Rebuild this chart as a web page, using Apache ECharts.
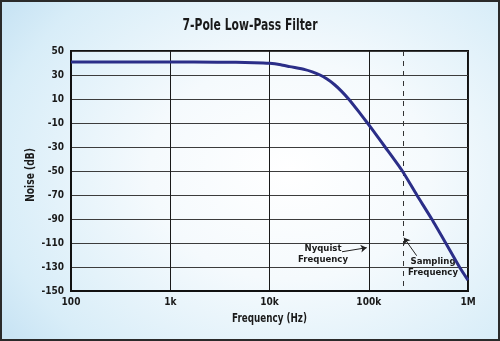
<!DOCTYPE html>
<html>
<head>
<meta charset="utf-8">
<script src="https://cdn.jsdelivr.net/npm/echarts@6/dist/echarts.min.js"></script>
<style>
  html, body { margin: 0; padding: 0; }
  #chart {
    width: 500px; height: 341px;
    background: radial-gradient(ellipse 70% 80% at 58% 50%, #ffffff 0%, #f5fafd 40%, #d8edf8 85%, #c9e4f4 100%);
  }
</style>
</head>
<body>
<div id="chart"></div>
<script>
// ---- data ----
var freqHz = [100, 1000, 3000, 7000, 10000, 13000, 16000, 22800, 27000, 32300, 38000, 45000, 53000, 63000, 80000, 97000, 120000, 146000, 218000, 305000, 431000, 596000, 820000, 1000000];
var noiseDb = [40.8, 40.8, 40.7, 40.3, 39.8, 38.6, 37.0, 34.5, 32.6, 30.0, 26.6, 22.1, 16.6, 9.8, -1.0, -10.0, -20.4, -30.0, -50.0, -70.0, -90.0, -110.0, -130.0, -141.0];
var xTickValues = [100, 1000, 10000, 100000, 1000000];
var xTickLabels = ['100', '1k', '10k', '100k', '1M'];
var samplingFreq = 225000;
var nyquistArrow = [[53800, -117.3], [95400, -113.9]];
var samplingArrow = [[304000, -120.6], [226000, -105.6]];
var nyquistText = { pos: [34600, -118.8], text: 'Nyquist\nFrequency' };
var samplingText = { pos: [444000, -129.8], text: 'Sampling\nFrequency' };
var titleText = '7-Pole Low-Pass Filter';
var xAxisName = 'Frequency (Hz)';
var yAxisName = 'Noise (dB)';

var FONT = '"Liberation Sans Narrow", "DejaVu Sans Condensed", "Arial Narrow", sans-serif';
var chart = echarts.init(document.getElementById('chart'), null, { renderer: 'canvas' });

var lineData = freqHz.map(function (f, i) { return [f, noiseDb[i]]; });

chart.setOption({
  backgroundColor: 'transparent',
  animation: false,
  grid: {
    left: 71, right: 32, top: 51, bottom: 50,
    show: true, borderColor: '#111', borderWidth: 2, backgroundColor: 'transparent'
  },
  xAxis: {
    type: 'log',
    logBase: 10,
    min: 100,
    max: 1000000,
    splitNumber: 4,
    axisLine: { show: true, onZero: false, lineStyle: { color: '#111', width: 2 } },
    axisTick: { show: false },
    axisLabel: {
      margin: 6,
      fontFamily: FONT, fontWeight: 'bold', fontSize: 10, color: '#1a1a1a',
      formatter: function (v) {
        var idx = xTickValues.indexOf(Math.round(v));
        return idx >= 0 ? xTickLabels[idx] : '';
      }
    },
    splitLine: { show: true, lineStyle: { color: '#1a1a1a', width: 1 } }
  },
  yAxis: {
    type: 'value',
    min: -150,
    max: 50,
    interval: 20,
    axisLine: { show: true, onZero: false, lineStyle: { color: '#111', width: 2 } },
    axisTick: { show: false },
    axisLabel: { margin: 7, fontFamily: FONT, fontWeight: 'bold', fontSize: 10, color: '#1a1a1a' },
    splitLine: { show: true, lineStyle: { color: '#3c3c3c', width: 1 } }
  },
  series: [{
    type: 'line',
    data: lineData,
    smooth: 0.2,
    showSymbol: false,
    symbol: 'none',
    lineStyle: { color: '#2b2e88', width: 3, join: 'round' },
    z: 5,
    markLine: {
      silent: true,
      symbol: ['none', 'arrow'],
      symbolSize: 6,
      label: { show: false },
      lineStyle: { color: '#222', width: 1, type: 'solid' },
      data: [
        [{ coord: nyquistArrow[0] }, { coord: nyquistArrow[1] }],
        [{ coord: samplingArrow[0] }, { coord: samplingArrow[1] }],
        [{ coord: [samplingFreq, 50], symbol: 'none', lineStyle: { type: [5, 5], color: '#333', width: 1 } },
         { coord: [samplingFreq, -150], symbol: 'none' }]
      ]
    },
    markPoint: {
      silent: true,
      symbol: 'circle',
      symbolSize: 0,
      label: {
        show: true,
        position: 'inside',
        fontFamily: FONT, fontWeight: 'bold', fontSize: 9.5, lineHeight: 11,
        color: '#1a1a1a', align: 'center', verticalAlign: 'middle'
      },
      data: [
        { coord: nyquistText.pos, value: 0, label: { formatter: nyquistText.text } },
        { coord: samplingText.pos, value: 0, label: { formatter: samplingText.text } }
      ]
    }
  }],
  graphic: [
    {
      type: 'text', x: 250, y: 26, scaleX: 0.8, silent: true,
      style: { text: titleText, font: 'bold 15px ' + FONT, fill: '#1a1a1a', align: 'center', verticalAlign: 'middle' }
    },
    {
      type: 'text', x: 269.5, y: 319, scaleX: 0.75, silent: true,
      style: { text: xAxisName, font: 'bold 13px ' + FONT, fill: '#1a1a1a', align: 'center', verticalAlign: 'middle' }
    },
    {
      type: 'text', x: 31, y: 175, rotation: Math.PI / 2, scaleX: 0.78, silent: true,
      style: { text: yAxisName, font: 'bold 13px ' + FONT, fill: '#1a1a1a', align: 'center', verticalAlign: 'middle' }
    },
    {
      type: 'rect', silent: true,
      shape: { x: 1, y: 1, width: 498, height: 339 },
      style: { fill: null, stroke: '#2a2a2a', lineWidth: 2 }
    }
  ]
});
</script>
</body>
</html>
